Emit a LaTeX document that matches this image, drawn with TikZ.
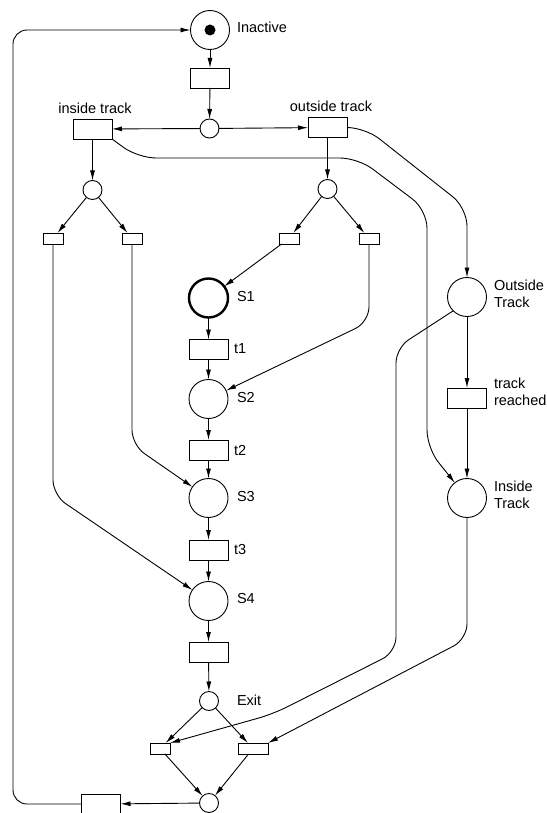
\documentclass[tikz,border=0pt]{standalone}
\usepackage{fontspec}
\setmainfont{Liberation Sans}
\usetikzlibrary{arrows.meta}
\begin{document}
\begin{tikzpicture}[x=1pt,y=-1pt,
  every node/.style={inner sep=0pt,outer sep=0pt},
  place/.style={circle,draw,line width=0.9pt,minimum size=39pt},
  splace/.style={circle,draw,line width=0.9pt,minimum size=19pt},
  trans/.style={rectangle,draw,line width=0.9pt,minimum width=39pt,minimum height=20pt},
  strans/.style={rectangle,draw,line width=0.9pt,minimum width=20pt,minimum height=11pt},
  wtrans/.style={rectangle,draw,line width=0.9pt,minimum width=30pt,minimum height=11pt},
  lbl/.style={font=\fontsize{14.5}{17}\selectfont,anchor=west,align=left},
  clbl/.style={font=\fontsize{14.5}{17}\selectfont},
  arr/.style={line width=0.9pt,-{Latex[length=10pt,width=5pt]}},
  ln/.style={line width=0.9pt}]
\useasboundingbox (0,0) rectangle (546,813);
\fill[white] (0,0) rectangle (546,813);
% central column
\node[place] (inact) at (210,30) {};
\fill (inact.center) circle (5.5);
\node[lbl] (linact) at (237,27) {Inactive};
\node[trans] (T0) at (210,78) {};
\node[splace] (P0) at (209.5,128.5) {};
\node[trans] (itr) at (92.5,129) {};
\node[clbl] (litr) at (95,108) {inside track};
\node[trans] (otr) at (327.5,127.5) {};
\node[clbl] (lotr) at (331,106) {outside track};
\node[splace] (pl) at (92.5,190) {};
\node[splace] (pr) at (327.5,189) {};
\node[strans] (r1) at (53,238.5) {};
\node[strans] (r2) at (132,238.5) {};
\node[strans] (r3) at (289,238.5) {};
\node[strans] (r4) at (369,238.5) {};
\node[place,line width=2.4pt] (S1) at (208.5,298) {};
\node[lbl] (lS1) at (237,297) {S1};
\node[trans] (t1) at (208.5,349.5) {};
\node[lbl] (lt1) at (234,349) {t1};
\node[place] (S2) at (208.5,399) {};
\node[lbl] (lS2) at (237,398) {S2};
\node[trans] (t2) at (208.5,450) {};
\node[lbl] (lt2) at (234,450) {t2};
\node[place] (S3) at (208.5,498) {};
\node[lbl] (lS3) at (237,497) {S3};
\node[trans] (t3) at (208.5,550) {};
\node[lbl] (lt3) at (234,550) {t3};
\node[place] (S4) at (208.5,601) {};
\node[lbl] (lS4) at (237,599) {S4};
\node[trans] (T4) at (208.5,652) {};
\node[splace] (Ex) at (209,701) {};
\node[lbl] (lEx) at (237,700) {Exit};
\node[strans] (bl) at (160,748.5) {};
\node[wtrans] (br) at (253,748.5) {};
\node[splace] (Pb) at (209,803) {};
\node[trans] (Tb) at (101,804) {};
% right column
\node[place] (OT) at (467,297) {};
\node[lbl] (lOT) at (494,294) {Outside\\Track};
\node[trans] (TR) at (467,398) {};
\node[lbl] (lTR) at (494,392) {track\\reached};
\node[place] (IT) at (467,498) {};
\node[lbl] (lIT) at (494,495) {Inside\\Track};
% connectors
\draw[arr] (inact) -- (T0);
\draw[arr] (T0) -- (P0);
\draw[arr] (P0) -- (itr);
\draw[arr] (P0) -- (otr);
\draw[arr] (itr) -- (pl);
\draw[arr] (otr) -- (pr);
\draw[arr] (pl) -- (r1);
\draw[arr] (pl) -- (r2);
\draw[arr] (pr) -- (r3);
\draw[arr] (pr) -- (r4);
\draw[arr] (r3) -- (S1);
\draw[arr,rounded corners=15pt] (r4.south) -- (369,322) -- (S2);
\draw[arr,rounded corners=15pt] (r2.south) -- (132,445) -- (S3);
\draw[arr,rounded corners=15pt] (r1.south) -- (53,495) -- (S4);
\draw[arr] (S1) -- (t1);
\draw[arr] (t1) -- (S2);
\draw[arr] (S2) -- (t2);
\draw[arr] (t2) -- (S3);
\draw[arr] (S3) -- (t3);
\draw[arr] (t3) -- (S4);
\draw[arr] (S4) -- (T4);
\draw[arr] (T4) -- (Ex);
\draw[arr,rounded corners=18pt] (otr.east) -- (365,127.5) -- (467,208) -- (OT.north);
\draw[arr,rounded corners=18pt] (itr.south east) -- (138,158) -- (358,158) -- (427,210) -- (427,448) -- (IT);
\draw[arr] (OT) -- (TR);
\draw[arr] (TR) -- (IT);
\draw[arr,rounded corners=15pt] (OT.south west) -- (396,348) -- (396,652) -- (273,714) -- (bl.north east);
\draw[arr,rounded corners=15pt] (IT.south) -- (467,639) -- (br.north east);
\draw[arr] (Ex) -- (bl);
\draw[arr] (Ex) -- (br);
\draw[arr] (bl) -- (Pb);
\draw[arr] (br) -- (Pb);
\draw[arr] (Pb) -- (Tb);
\draw[arr,rounded corners=14pt] (Tb.west) -- (13,804) -- (13,30) -- (inact.west);
\end{tikzpicture}
\end{document}
